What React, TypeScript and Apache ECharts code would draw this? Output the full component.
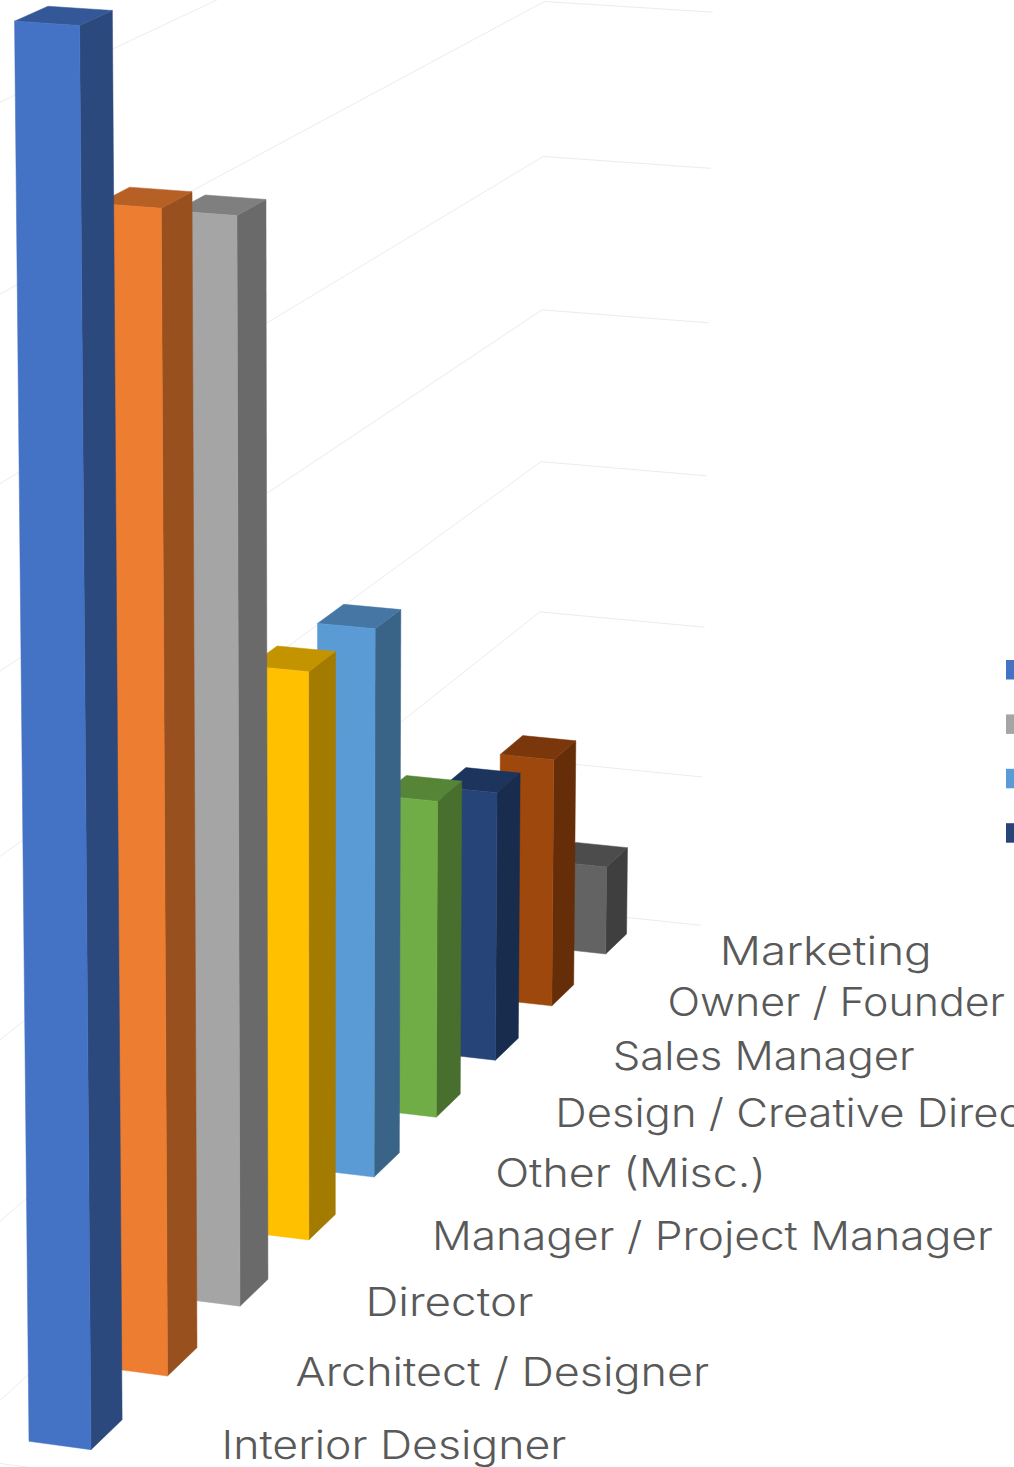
import React, { useEffect, useRef } from "react";
import * as echarts from "echarts";

// Job titles, front of the depth axis first.
const categories = [
  "Interior Designer",
  "Architect / Designer",
  "Director",
  "Manager / Project Manager",
  "Other (Misc.)",
  "Design / Creative Director",
  "Sales Manager",
  "Owner / Founder",
  "Marketing",
];
const respondents = [75.6, 64.1, 61.5, 33.4, 33.0, 19.6, 17.0, 16.0, 5.8];
const barColors = [
  "#4472C4", "#ED7D31", "#A5A5A5", "#FFC000", "#5B9BD5",
  "#70AD47", "#264478", "#9E480E", "#636363",
];
const valueTicks = [0, 10, 20, 30, 40, 50, 60, 70, 80];
const legendSwatches = [0, 2, 4, 6];

// Horizontal stretch applied to each depth label's glyphs.
const labelStretch = [1.143, 1.152, 1.172, 1.134, 1.147, 1.118, 1.119, 1.1, 1.175];

const WIDTH = 1014;
const HEIGHT = 1467;
const VALUE_MAX = 80;
const VALUE_STEP = 10;

// Vanishing points and unit foreshortening of the three world directions.
const ORIGIN = [91, 1449.7];
const VP_ACROSS = [-20500, -1336];
const VP_DEPTH = [2920, -1275];
const VP_UP = [320, 30000];
const K_ACROSS = 0.00302;
const K_DEPTH = 0.0278;
const K_UP = -0.006285;

// across: bar widths to the left; depth: category steps; up: gridline steps.
function project(across: number, depth: number, up: number): number[] {
  const a = K_ACROSS * across;
  const d = K_DEPTH * depth;
  const u = K_UP * up;
  const w = 1 + a + d + u;
  return [
    (ORIGIN[0] + a * VP_ACROSS[0] + d * VP_DEPTH[0] + u * VP_UP[0]) / w,
    (ORIGIN[1] + a * VP_ACROSS[1] + d * VP_DEPTH[1] + u * VP_UP[1]) / w,
  ];
}

const BAR_DEPTH = 0.4;
const WALL_LEFT = 2.04;
const WALL_RIGHT = -1.14;
const FLOOR_FRONT = -0.3;
const FLOOR_BACK = 8.7;

function shade(hex: string, k: number): string {
  const n = parseInt(hex.slice(1), 16);
  const c = [(n >> 16) & 255, (n >> 8) & 255, n & 255].map((v) => Math.round(v * k));
  return `rgb(${c[0]},${c[1]},${c[2]})`;
}

// Turns a point of the hidden cartesian plane into depth and height units.
function toWorld(params: any, api: any, cat: number, value: number) {
  const [px, py] = api.coord([cat, value]);
  const cs = params.coordSys;
  return {
    depth: ((px - cs.x) / cs.width) * (categories.length - 1),
    up: (((cs.y + cs.height - py) / cs.height) * VALUE_MAX) / VALUE_STEP,
  };
}

function renderBar(params: any, api: any) {
  const cat = api.value(0);
  const { depth: z, up: top } = toWorld(params, api, cat, api.value(1));
  const base = barColors[cat];
  const back = z + BAR_DEPTH;
  const poly = (points: number[][], fill: string) => ({
    type: "polygon",
    shape: { points },
    style: { fill, stroke: fill, lineWidth: 0.5 },
  });
  return {
    type: "group",
    children: [
      poly(
        [project(0, z, 0), project(0, back, 0), project(0, back, top), project(0, z, top)],
        shade(base, 0.64)
      ),
      poly(
        [project(1, z, top), project(0, z, top), project(0, back, top), project(1, back, top)],
        shade(base, 0.77)
      ),
      poly(
        [project(1, z, 0), project(0, z, 0), project(0, z, top), project(1, z, top)],
        base
      ),
    ],
  };
}

function renderGridline(params: any, api: any) {
  const { up } = toWorld(params, api, 0, api.value(1));
  const line = (points: number[][]) => ({
    type: "polyline",
    shape: { points },
    style: { fill: "none", stroke: "#ECECEC", lineWidth: 1 },
  });
  const children = [
    line([
      project(WALL_LEFT, FLOOR_FRONT, up),
      project(WALL_LEFT, FLOOR_BACK, up),
      project(WALL_RIGHT, FLOOR_BACK, up),
    ]),
  ];
  if (up === 0) {
    children.push(line([project(WALL_LEFT, FLOOR_FRONT, 0), project(WALL_RIGHT, FLOOR_FRONT, 0)]));
  }
  return { type: "group", children };
}

function renderDepthLabel(params: any, api: any) {
  const cat = api.value(0);
  const { depth } = toWorld(params, api, cat, 0);
  const [x, y] = project(-1.792, depth + 0.2518, 0);
  return {
    type: "text",
    x: x + depth - 0.5,
    y: y - 1,
    scaleX: labelStretch[cat],
    style: {
      text: categories[cat],
      fontFamily: "Inter",
      fontWeight: 300,
      fontSize: 39,
      fill: "#595959",
      align: "left",
      verticalAlign: "middle",
    },
  };
}

export default function App() {
  const ref = useRef<HTMLDivElement>(null);

  useEffect(() => {
    const chart = echarts.init(ref.current!, undefined, { renderer: "svg" });
    chart.setOption({
      animation: false,
      backgroundColor: "#FFFFFF",
      grid: { left: 0, right: 0, top: 0, bottom: 0 },
      xAxis: { type: "category", data: categories, boundaryGap: false, show: false },
      yAxis: { type: "value", min: 0, max: VALUE_MAX, interval: VALUE_STEP, show: false },
      series: [
        {
          type: "custom",
          renderItem: renderGridline,
          data: valueTicks.map((t) => [0, t]),
          encode: { x: 0, y: 1 },
          silent: true,
          z: 1,
        },
        {
          // Painted from the far end so nearer columns cover farther ones.
          type: "custom",
          renderItem: renderBar,
          data: respondents.map((v, i) => [i, v]).reverse(),
          encode: { x: 0, y: 1 },
          z: 2,
        },
        {
          type: "custom",
          renderItem: renderDepthLabel,
          data: categories.map((_, i) => [i, 0]),
          encode: { x: 0, y: 1 },
          silent: true,
          z: 3,
        },
      ],
      graphic: legendSwatches.map((cat, i) => ({
        type: "rect",
        shape: { x: 1006, y: 660 + i * 54.4, width: 8, height: 19.5 },
        style: { fill: barColors[cat] },
      })),
    });
    return () => chart.dispose();
  }, []);

  return (
    <div
      ref={ref}
      style={{ position: "absolute", left: 0, top: 0, width: WIDTH, height: HEIGHT }}
    />
  );
}
